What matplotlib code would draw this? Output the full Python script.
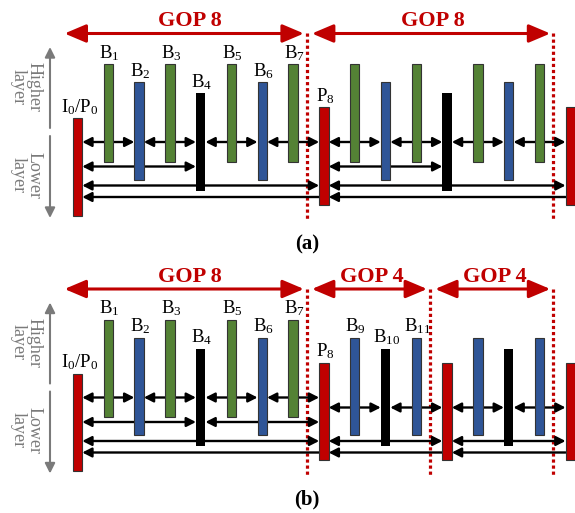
import matplotlib
matplotlib.use("Agg")
import matplotlib.pyplot as plt
from matplotlib.patches import Rectangle, FancyArrowPatch

plt.rcParams["mathtext.fontset"] = "custom"
plt.rcParams["mathtext.rm"] = "Liberation Serif"
plt.rcParams["mathtext.it"] = "Liberation Serif:italic"

# frame types: I = first intra/P, r = P frame, g/b/k = B frames by layer
TYPES_A = ["I", "g", "b", "g", "k", "g", "b", "g", "r",
           "g", "b", "g", "k", "g", "b", "g", "r"]
TYPES_B = ["I", "g", "b", "g", "k", "g", "b", "g", "r",
           "b", "k", "b", "r", "b", "k", "b", "r"]

LABELS_A = {0: "I$_{0}$/P$_{0}$", 1: "B$_{1}$", 2: "B$_{2}$", 3: "B$_{3}$",
            4: "B$_{4}$", 5: "B$_{5}$", 6: "B$_{6}$", 7: "B$_{7}$",
            8: "P$_{8}$"}
LABELS_B = dict(LABELS_A)
LABELS_B.update({9: "B$_{9}$", 10: "B$_{10}$", 11: "B$_{11}$"})

# reference arrows: (row, from frame, to frame, heads)
ARROWS_A = [("r1", 0, 2, "both"), ("r1", 2, 4, "both"), ("r1", 4, 6, "both"),
            ("r1", 6, 8, "both"), ("r1", 8, 10, "both"), ("r1", 10, 12, "both"),
            ("r1", 12, 14, "both"), ("r1", 14, 16, "both"),
            ("r2", 0, 4, "both"), ("r2", 8, 12, "both"),
            ("r3", 0, 8, "both"), ("r3", 8, 16, "both"),
            ("r4", 0, 8, "left"), ("r4", 8, 16, "left")]
ARROWS_B = [("r1", 0, 2, "both"), ("r1", 2, 4, "both"), ("r1", 4, 6, "both"),
            ("r1", 6, 8, "both"),
            ("r1b", 8, 10, "both"), ("r1b", 10, 12, "both"),
            ("r1b", 12, 14, "both"), ("r1b", 14, 16, "both"),
            ("r2", 0, 4, "both"), ("r2", 4, 8, "both"),
            ("r3", 0, 8, "both"), ("r3", 8, 12, "both"), ("r3", 12, 16, "both"),
            ("r4", 0, 8, "left"), ("r4", 8, 12, "left"), ("r4", 12, 16, "left")]

GOPS_A = [(0, 8, "GOP 8"), (8, 16, "GOP 8")]
GOPS_B = [(0, 8, "GOP 8"), (8, 12, "GOP 4"), (12, 16, "GOP 4")]

COLORS = {"I": "#C00000", "r": "#C00000", "g": "#548235",
          "b": "#2F5597", "k": "#000000"}
TOPS = {"I": 118, "r": 107, "g": 64, "b": 82, "k": 93}
ROWS = {"r1": 142, "r1b": 152, "r2": 166.5, "r3": 185.5, "r4": 197}
RED = "#C00000"
GRAY = "#7A7A7A"

X0, DX, BW, BH = 77.5, 30.8, 9.5, 97.5
SERIF = "Liberation Serif"


def fx(i):
    return X0 + i * DX


def arrow(ax, x1, y1, x2, y2, style, color, lw, z=2):
    p = FancyArrowPatch((x1, y1), (x2, y2), arrowstyle=style, color=color,
                        lw=lw, shrinkA=0, shrinkB=0, mutation_scale=10,
                        zorder=z)
    ax.add_patch(p)


def draw_panel(ax, off, types, labels, arrows, gops, tag):
    # bars
    for i, t in enumerate(types):
        ec = "none" if t == "k" else "#333333"
        ax.add_patch(Rectangle((fx(i) - BW / 2, TOPS[t] + off), BW, BH,
                               facecolor=COLORS[t], edgecolor=ec, lw=0.8,
                               zorder=5))
        if i in labels:
            dx = 2 if t == "I" else 1
            ax.text(fx(i) + dx, TOPS[t] + off - 1.5, labels[i], family=SERIF,
                    fontsize=13.5, ha="center", va="bottom", zorder=6)
    # reference arrows
    for row, a, b, heads in arrows:
        y = ROWS[row] + off
        st = ("<|-|>" if heads == "both" else "<|-") + ",head_length=0.55,head_width=0.28"
        arrow(ax, fx(a) + BW / 2, y, fx(b) - BW / 2, y, st, "black", 1.7)
    # GOP boundaries and spans
    bounds = sorted({g[1] for g in gops})
    for b in bounds:
        xb = fx(b) - 17
        ax.plot([xb, xb], [33 + off, 220 + off], color=RED, lw=2.3,
                ls=(0, (1, 0.9)), zorder=1)
    for k, (a, b, txt) in enumerate(gops):
        xs = fx(a) - 13 if k == 0 else fx(a) - 12
        xe = fx(b) - 20
        y = 33.5 + off
        arrow(ax, xs, y, xe, y, "<|-|>,head_length=1.3,head_width=0.55",
              RED, 2.2)
        ax.text((xs + xe) / 2 + (6 if k == 0 else 2), 21 + off, txt,
                family=SERIF, weight="bold", fontsize=16, color=RED,
                ha="center", va="center")
    # layer indicators
    arrow(ax, 50, 128 + off, 50, 47 + off, "-|>,head_length=0.6,head_width=0.3",
          GRAY, 1.5)
    arrow(ax, 50, 136 + off, 50, 218 + off, "-|>,head_length=0.6,head_width=0.3",
          GRAY, 1.5)
    for txt, yc in (("Higher\nlayer", 87), ("Lower\nlayer", 175)):
        ax.text(26, yc + off, txt, rotation=270, family=SERIF,
                fontsize=13, color=GRAY, ha="center", va="center",
                multialignment="center", linespacing=0.85)
    ax.text(307, 244 + off, tag, family=SERIF, weight="bold", fontsize=15,
            ha="center", va="center")


def main():
    fig = plt.figure(figsize=(5.75, 5.13), dpi=100)
    ax = fig.add_axes([0, 0, 1, 1])
    ax.set_xlim(0, 575)
    ax.set_ylim(513, 0)
    ax.axis("off")
    draw_panel(ax, 0, TYPES_A, LABELS_A, ARROWS_A, GOPS_A, "(a)")
    draw_panel(ax, 255.5, TYPES_B, LABELS_B, ARROWS_B, GOPS_B, "(b)")
    fig.savefig("out.png", dpi=100)
    plt.close(fig)


if __name__ == "__main__":
    main()
